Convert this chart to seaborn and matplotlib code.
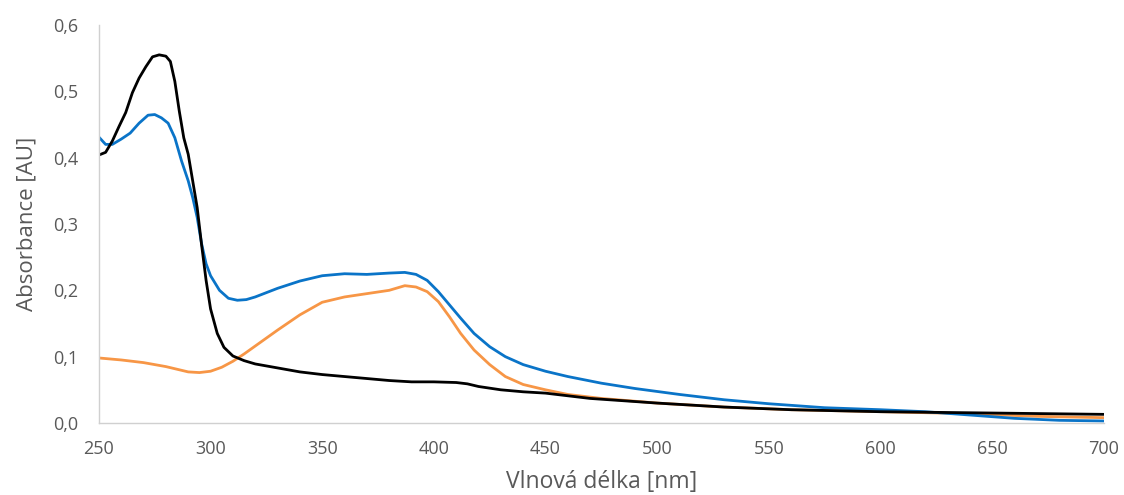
import numpy as np
import pandas as pd
import matplotlib
matplotlib.use("Agg")
import matplotlib.pyplot as plt
import seaborn as sns

# ---- data ----
black_wl = [250, 253, 256, 259, 262, 265, 268, 271, 274, 277, 280, 282, 284, 286, 288, 290, 292, 294, 296, 298,
            300, 303, 306, 310, 315, 320, 330, 340, 350, 360, 370, 380, 390, 400, 410, 415, 420, 430, 440, 450,
            470, 500, 530, 560, 600, 650, 700]
black_abs = [0.404, 0.408, 0.425, 0.447, 0.468, 0.498, 0.520, 0.537, 0.552, 0.555, 0.553, 0.545, 0.515, 0.470,
             0.430, 0.405, 0.365, 0.325, 0.268, 0.215, 0.172, 0.135, 0.114, 0.101, 0.094, 0.089, 0.083, 0.077,
             0.073, 0.070, 0.067, 0.064, 0.062, 0.062, 0.061, 0.059, 0.055, 0.050, 0.047, 0.045, 0.037, 0.030,
             0.024, 0.020, 0.017, 0.015, 0.013]

blue_wl = [250, 253, 256, 260, 264, 268, 272, 275, 278, 281, 284, 287, 290, 292, 294, 296, 298, 300, 304, 308,
           312, 316, 320, 330, 340, 350, 360, 370, 380, 387, 392, 397, 402, 407, 412, 418, 425, 432, 440, 450,
           460, 475, 490, 510, 530, 550, 575, 600, 620, 640, 660, 680, 700]
blue_abs = [0.431, 0.420, 0.420, 0.428, 0.437, 0.452, 0.464, 0.465, 0.460, 0.452, 0.430, 0.395, 0.365, 0.340,
            0.310, 0.270, 0.240, 0.222, 0.200, 0.188, 0.185, 0.186, 0.190, 0.203, 0.214, 0.222, 0.225, 0.224,
            0.226, 0.227, 0.224, 0.215, 0.198, 0.178, 0.158, 0.135, 0.115, 0.100, 0.088, 0.078, 0.070, 0.060,
            0.052, 0.043, 0.035, 0.029, 0.023, 0.020, 0.017, 0.012, 0.007, 0.004, 0.003]

orange_wl = [250, 260, 270, 280, 290, 295, 300, 305, 310, 315, 320, 330, 340, 350, 360, 370, 380, 387, 392, 397,
             402, 407, 412, 418, 425, 432, 440, 450, 460, 475, 500, 530, 560, 600, 640, 670, 700]
orange_abs = [0.098, 0.095, 0.091, 0.085, 0.077, 0.076, 0.078, 0.084, 0.093, 0.104, 0.116, 0.140, 0.163, 0.182,
              0.190, 0.195, 0.200, 0.207, 0.205, 0.198, 0.183, 0.160, 0.135, 0.110, 0.088, 0.070, 0.058, 0.050,
              0.043, 0.037, 0.030, 0.024, 0.020, 0.017, 0.014, 0.010, 0.008]

x_ticks = [250, 300, 350, 400, 450, 500, 550, 600, 650, 700]
y_ticks = [0.0, 0.1, 0.2, 0.3, 0.4, 0.5, 0.6]
y_tick_labels = ["0,0", "0,1", "0,2", "0,3", "0,4", "0,5", "0,6"]

df = pd.concat([
    pd.DataFrame({"wl": orange_wl, "abs": orange_abs, "s": "orange"}),
    pd.DataFrame({"wl": blue_wl, "abs": blue_abs, "s": "blue"}),
    pd.DataFrame({"wl": black_wl, "abs": black_abs, "s": "black"}),
], ignore_index=True)

sns.set_style("white")
plt.rcParams["font.family"] = ["Open Sans", "DejaVu Sans"]

fig = plt.figure(figsize=(11.24, 4.95), dpi=100)
ax = fig.add_axes([0.088, 0.1455, 0.894, 0.804])

palette = {"orange": "#F79646", "blue": "#0A74C8", "black": "#000000"}
sns.lineplot(data=df, x="wl", y="abs", hue="s", palette=palette, sort=False,
             linewidth=2.0, legend=False, ax=ax, estimator=None)

ax.set_xlim(250, 700)
ax.set_ylim(0, 0.6)
ax.set_xticks(x_ticks)
ax.set_xticklabels([str(v) for v in x_ticks])
ax.set_yticks(y_ticks)
ax.set_yticklabels(y_tick_labels)

for side in ["top", "right"]:
    ax.spines[side].set_visible(False)
for side in ["left", "bottom"]:
    ax.spines[side].set_color("#D0D0D0")
    ax.spines[side].set_linewidth(1.0)

ax.tick_params(axis="both", which="major", length=6, width=1.0, color="#D0D0D0",
               labelcolor="#595959", labelsize=13, direction="out")
ax.tick_params(axis="x", pad=6)
ax.tick_params(axis="y", pad=9)

ax.set_xlabel("Vlnová délka [nm]", fontsize=16.5, color="#595959", labelpad=9)
ax.set_ylabel("Absorbance [AU]", fontsize=16, color="#595959", labelpad=11)

fig.savefig("out.png", dpi=100)
